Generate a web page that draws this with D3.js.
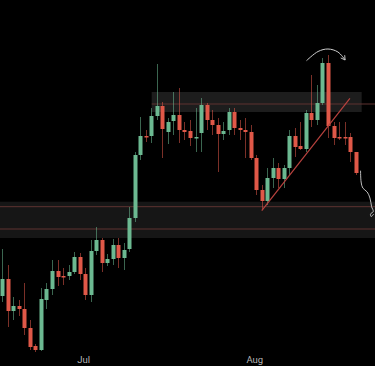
<!DOCTYPE html>
<html>
<head>
<meta charset="utf-8">
<script src="https://cdn.jsdelivr.net/npm/d3@7"></script>
<style>
  html, body { margin: 0; padding: 0; background: #000; }
  svg { display: block; }
</style>
</head>
<body>
<svg id="chart"></svg>
<script>
// daily candles, first one on Jun 16
var startDay = '2023-06-16';
var opens  = [10.4, 12.1, 8.9, 9.4, 9.1, 7.2, 5.4, 5.0, 10.0, 11.1, 12.9, 12.4, 12.4, 12.8, 14.3, 12.6,
              10.5, 14.9, 16.0, 13.7, 14.1, 15.5, 14.2, 15.1, 18.2, 24.5, 26.4, 26.4, 28.4, 29.4, 26.8, 27.9,
              28.5, 27.0, 26.9, 26.2, 26.7, 29.5, 28.0, 27.5, 26.6, 27.0, 28.8, 27.2, 27.0, 26.8, 24.2, 21.0,
              19.9, 22.2, 23.2, 22.1, 23.2, 26.4, 25.4, 25.1, 28.7, 28.0, 29.7, 33.7, 27.4, 26.3, 26.3, 26.3, 24.8];
var highs  = [15.1, 13.5, 10.3, 10.0, 11.7, 8.0, 5.6, 11.2, 11.7, 14.0, 14.0, 13.2, 13.5, 14.8, 14.7, 13.2,
              16.0, 17.3, 16.2, 14.6, 16.1, 16.2, 15.7, 19.3, 24.8, 28.3, 27.0, 29.2, 33.6, 29.8, 28.2, 30.8,
              31.2, 27.8, 28.0, 29.2, 30.2, 29.7, 29.0, 28.2, 27.8, 29.2, 29.2, 28.0, 28.2, 27.5, 24.5, 21.5,
              23.2, 24.2, 23.7, 23.5, 27.0, 27.2, 27.8, 29.0, 32.5, 31.5, 34.2, 34.5, 27.8, 27.8, 27.8, 26.7, 24.8];
var lows   = [9.8, 7.3, 8.0, 8.4, 6.5, 5.0, 4.8, 4.9, 9.1, 10.5, 11.4, 11.5, 12.0, 12.6, 12.0, 10.0,
              9.8, 14.5, 12.8, 13.4, 13.5, 13.2, 13.0, 14.8, 17.8, 24.0, 25.8, 25.7, 28.0, 24.2, 25.6, 26.5,
              25.7, 26.0, 25.4, 24.8, 24.8, 27.0, 26.5, 22.8, 26.0, 26.5, 26.5, 26.0, 24.2, 24.0, 20.5, 19.0,
              19.5, 21.2, 21.2, 21.2, 22.5, 24.3, 25.0, 24.8, 27.3, 27.5, 29.5, 26.2, 25.5, 26.0, 25.5, 23.8, 22.5];
var closes = [12.1, 8.9, 9.4, 9.1, 7.2, 5.3, 5.0, 10.1, 11.1, 12.9, 12.3, 12.35, 12.8, 14.3, 12.6, 10.5,
              14.9, 16.0, 13.7, 14.1, 15.5, 14.2, 15.0, 18.2, 24.5, 26.4, 26.3, 28.4, 29.4, 27.1, 27.8, 28.5,
              27.0, 26.8, 26.2, 26.3, 29.5, 28.0, 27.5, 26.6, 26.9, 28.8, 27.2, 27.0, 26.8, 24.2, 21.0, 19.9,
              22.2, 23.2, 22.1, 23.2, 26.4, 25.3, 25.1, 28.7, 28.0, 29.7, 33.7, 27.4, 26.2, 26.2, 26.2, 24.8, 22.7];

var tickDates = ['2023-07-01', '2023-08-01'];

// drawn zones / lines: [day offset, price]
var upperZone = [[27.06, 30.8], [65.1, 28.8]];
var upperLine = 29.6;
var lowerZone = [16.2, 19.83];
var lowerLines = [19.33, 17.1];
var trendLine = [[47.0, 18.93], [62.97, 30.17]];
var arcArrow = [[55.1, 33.93], [57.2, 34.85], [59.0, 35.1], [60.8, 34.8], [62.1, 34.0]];
var squiggle = [[64.9, 22.93], [65.0, 21.8], [65.3, 21.2], [66.1, 20.8], [66.6, 20.2], [66.9, 19.33],
                [67.2, 18.85], [66.7, 18.6], [66.8, 18.35], [67.3, 18.6]];

var width = 375, height = 366;
var DAY = 86400000;
var t0 = new Date(startDay + 'T00:00:00Z');
function day(n) { return new Date(t0.getTime() + n * DAY); }

var candles = opens.map(function (o, i) {
    return { date: day(i), open: o, high: highs[i], low: lows[i], close: closes[i] };
});

var x = d3.scaleUtc()
    .domain([day(0), day(64)])
    .range([2.3, 355.6]);
var y = d3.scaleLinear()
    .domain([3.4, 40])
    .range([366, 0]);

var bodyW = 4;
var green = '#6cb991', red = '#e05848', zoneLine = '#5e3330';

var svg = d3.select('#chart')
    .attr('width', width)
    .attr('height', height);

svg.append('rect')
    .attr('width', width).attr('height', height)
    .attr('fill', '#000');

// lower zone, full width
svg.append('rect')
    .attr('x', 0).attr('width', width)
    .attr('y', y(lowerZone[1]))
    .attr('height', y(lowerZone[0]) - y(lowerZone[1]))
    .attr('fill', '#161616');
svg.selectAll('.lowline')
    .data(lowerLines)
    .enter().append('line')
    .attr('x1', 0).attr('x2', width)
    .attr('y1', function (d) { return y(d); })
    .attr('y2', function (d) { return y(d); })
    .attr('stroke', zoneLine).attr('stroke-width', 1);

// upper zone
svg.append('rect')
    .attr('x', x(day(upperZone[0][0])))
    .attr('width', x(day(upperZone[1][0])) - x(day(upperZone[0][0])))
    .attr('y', y(upperZone[0][1]))
    .attr('height', y(upperZone[1][1]) - y(upperZone[0][1]))
    .attr('fill', '#1d1d1d');
svg.append('line')
    .attr('x1', x(day(upperZone[0][0]))).attr('x2', width)
    .attr('y1', y(upperLine)).attr('y2', y(upperLine))
    .attr('stroke', zoneLine).attr('stroke-width', 1);

// candles
var g = svg.selectAll('.candle')
    .data(candles)
    .enter().append('g');

g.append('line')
    .attr('x1', function (d) { return Math.round(x(d.date)) + 0.5; })
    .attr('x2', function (d) { return Math.round(x(d.date)) + 0.5; })
    .attr('y1', function (d) { return y(d.high); })
    .attr('y2', function (d) { return y(d.low); })
    .attr('stroke', function (d) { return d.close >= d.open ? green : red; })
    .attr('stroke-opacity', 0.55)
    .attr('stroke-width', 1);

g.append('rect')
    .attr('x', function (d) { return Math.round(x(d.date)) + 0.5 - bodyW / 2; })
    .attr('width', bodyW)
    .attr('y', function (d) { return y(Math.max(d.open, d.close)); })
    .attr('height', function (d) { return Math.max(1.5, Math.abs(y(d.open) - y(d.close))); })
    .attr('fill', function (d) { return d.close >= d.open ? green : red; });

// trend line
svg.append('line')
    .attr('x1', x(day(trendLine[0][0]))).attr('y1', y(trendLine[0][1]))
    .attr('x2', x(day(trendLine[1][0]))).attr('y2', y(trendLine[1][1]))
    .attr('stroke', '#b8423e').attr('stroke-width', 1.2);

// hand drawn arc + arrow
var line = d3.line()
    .x(function (d) { return x(day(d[0])); })
    .y(function (d) { return y(d[1]); })
    .curve(d3.curveCatmullRom);

svg.append('defs').append('marker')
    .attr('id', 'arrow')
    .attr('viewBox', '0 0 10 10')
    .attr('refX', 8).attr('refY', 5)
    .attr('markerWidth', 6).attr('markerHeight', 6)
    .attr('orient', 'auto')
    .append('path')
    .attr('d', 'M1,1 L8,5 L1,9')
    .attr('fill', 'none')
    .attr('stroke', '#cfcfcf')
    .attr('stroke-width', 1.4);

svg.append('path')
    .attr('d', line(arcArrow))
    .attr('fill', 'none')
    .attr('stroke', '#cfcfcf')
    .attr('stroke-width', 1)
    .attr('marker-end', 'url(#arrow)');

svg.append('path')
    .attr('d', line(squiggle))
    .attr('fill', 'none')
    .attr('stroke', '#bdbdbd')
    .attr('stroke-width', 1);

// x axis labels
var xAxis = d3.axisBottom(x)
    .tickValues(tickDates.map(function (s) { return new Date(s + 'T00:00:00Z'); }))
    .tickFormat(d3.utcFormat('%b'))
    .tickSize(0);

var ax = svg.append('g')
    .attr('transform', 'translate(-2,353)')
    .call(xAxis);
ax.select('.domain').remove();
ax.selectAll('text')
    .attr('fill', '#b5b5b5')
    .style('font-family', 'Roboto, "Noto Sans", sans-serif')
    .style('font-size', '9.5px');
</script>
</body>
</html>
